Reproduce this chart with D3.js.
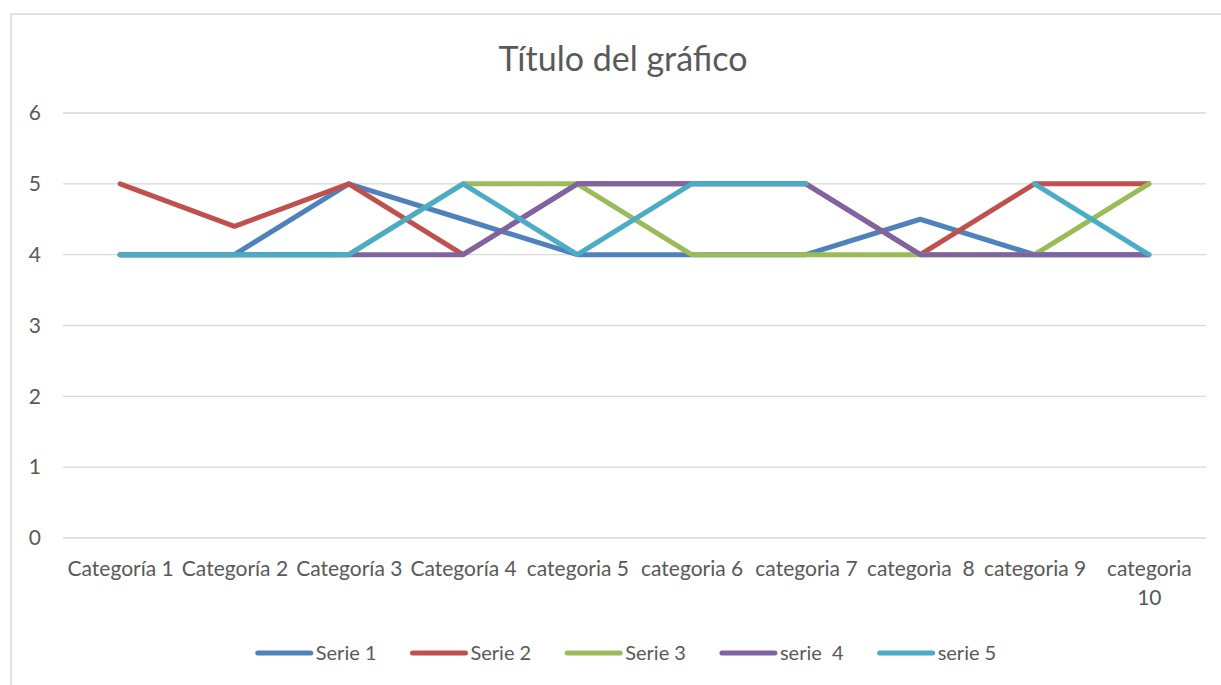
<!DOCTYPE html>
<html>
<head>
<meta charset="utf-8">
<script src="https://cdn.jsdelivr.net/npm/d3@7"></script>
<style>
  body { margin: 0; background: #fff; }
  text { font-family: Lato, "Open Sans", sans-serif; fill: #595959; white-space: pre; }
</style>
</head>
<body>
<div id="chart"></div>
<script>
// categories and series
var categories = ["Categoría 1", "Categoría 2", "Categoría 3", "Categoría 4", "categoria 5",
                  "categoria 6", "categoria 7", "categorìa  8", "categoria 9", "categoria 10"];
var seriesNames = ["Serie 1", "Serie 2", "Serie 3", "serie  4", "serie 5"];
var seriesColors = ["#4F81BD", "#C0504D", "#9BBB59", "#8064A2", "#4BACC6"];
var serie1 = [4, 4, 5, 4.5, 4, 4, 4, 4.5, 4, 4];
var serie2 = [5, 4.4, 5, 4, 5, 5, 5, 4, 5, 5];
var serie3 = [4, 4, 4, 5, 5, 4, 4, 4, 4, 5];
var serie4 = [4, 4, 4, 4, 5, 5, 5, 4, 4, 4];
var serie5 = [4, 4, 4, 5, 4, 5, 5, null, 5, 4];
var yTicks = [0, 1, 2, 3, 4, 5, 6];
var title = "Título del gráfico";

var allSeries = [serie1, serie2, serie3, serie4, serie5];

var width = 1221, height = 685;
var margin = {top: 113, right: 15, bottom: 147, left: 63};

var svg = d3.select("#chart").append("svg")
    .attr("width", width)
    .attr("height", height);

// chart border (right and bottom fall outside the picture)
svg.append("rect")
    .attr("x", 11).attr("y", 14)
    .attr("width", width).attr("height", height)
    .attr("fill", "none")
    .attr("stroke", "#D9D9D9")
    .attr("stroke-width", 1.5);

//title
svg.append("text")
    .attr("x", 623)
    .attr("y", 71)
    .attr("text-anchor", "middle")
    .style("font-size", "34px")
    .text(title);

var x = d3.scalePoint()
    .domain(categories)
    .range([margin.left, width - margin.right])
    .padding(0.5);

var y = d3.scaleLinear()
    .domain([0, 6])
    .range([height - margin.bottom, margin.top]);

// gridlines
svg.append("g")
    .selectAll("line")
    .data(yTicks)
    .enter()
    .append("line")
    .attr("x1", margin.left)
    .attr("x2", width - margin.right)
    .attr("y1", function(d) { return y(d); })
    .attr("y2", function(d) { return y(d); })
    .attr("stroke", "#D9D9D9")
    .attr("stroke-width", 1.3);

// y axis labels
var yAxis = d3.axisLeft(y).tickValues(yTicks).tickFormat(d3.format("d")).tickSize(0).tickPadding(22);
svg.append("g")
    .attr("class", "y-axis")
    .attr("transform", "translate(" + margin.left + ",0)")
    .call(yAxis)
    .call(function(g) { g.select(".domain").remove(); })
    .selectAll("text")
    .style("font-size", "21px")
    .attr("fill", "#595959");

// x axis labels
var xAxis = d3.axisBottom(x).tickSize(0).tickPadding(23);
var xg = svg.append("g")
    .attr("class", "x-axis")
    .attr("transform", "translate(0," + y(0) + ")")
    .call(xAxis)
    .call(function(g) { g.select(".domain").remove(); });

xg.selectAll("text")
    .style("font-size", "21px")
    .attr("fill", "#595959")
    .each(function(d) {
        // wrap labels that don't fit in their slot
        var t = d3.select(this);
        if (this.getComputedTextLength() > x.step() - 4) {
            var words = d.split(/\s+/);
            var dy = t.attr("dy");
            t.text(null);
            words.forEach(function(w, i) {
                t.append("tspan")
                    .attr("x", 0)
                    .attr("dy", i == 0 ? dy : "1.4em")
                    .text(w);
            });
        }
    });

// lines
var line = d3.line()
    .defined(function(d) { return d != null; })
    .x(function(d, i) { return x(categories[i]); })
    .y(function(d) { return y(d); });

svg.append("g")
    .selectAll("path")
    .data(allSeries)
    .enter()
    .append("path")
    .attr("d", line)
    .attr("fill", "none")
    .attr("stroke", function(d, i) { return seriesColors[i]; })
    .attr("stroke-width", 5)
    .attr("stroke-linecap", "round")
    .attr("stroke-linejoin", "round");

// legend
var legend = svg.append("g");
var lx = 0;
seriesNames.forEach(function(name, i) {
    var item = legend.append("g").attr("transform", "translate(" + lx + ",0)");
    item.append("line")
        .attr("x1", 2).attr("x2", 55)
        .attr("y1", 0).attr("y2", 0)
        .attr("stroke", seriesColors[i])
        .attr("stroke-width", 5)
        .attr("stroke-linecap", "round");
    var t = item.append("text")
        .attr("x", 60)
        .attr("dy", "0.35em")
        .style("font-size", "20px")
        .text(name);
    lx += 60 + t.node().getComputedTextLength() + 34;
});
var legendWidth = lx - 34;
legend.attr("transform", "translate(" + (626 - legendWidth / 2) + ",653)");
</script>
</body>
</html>
